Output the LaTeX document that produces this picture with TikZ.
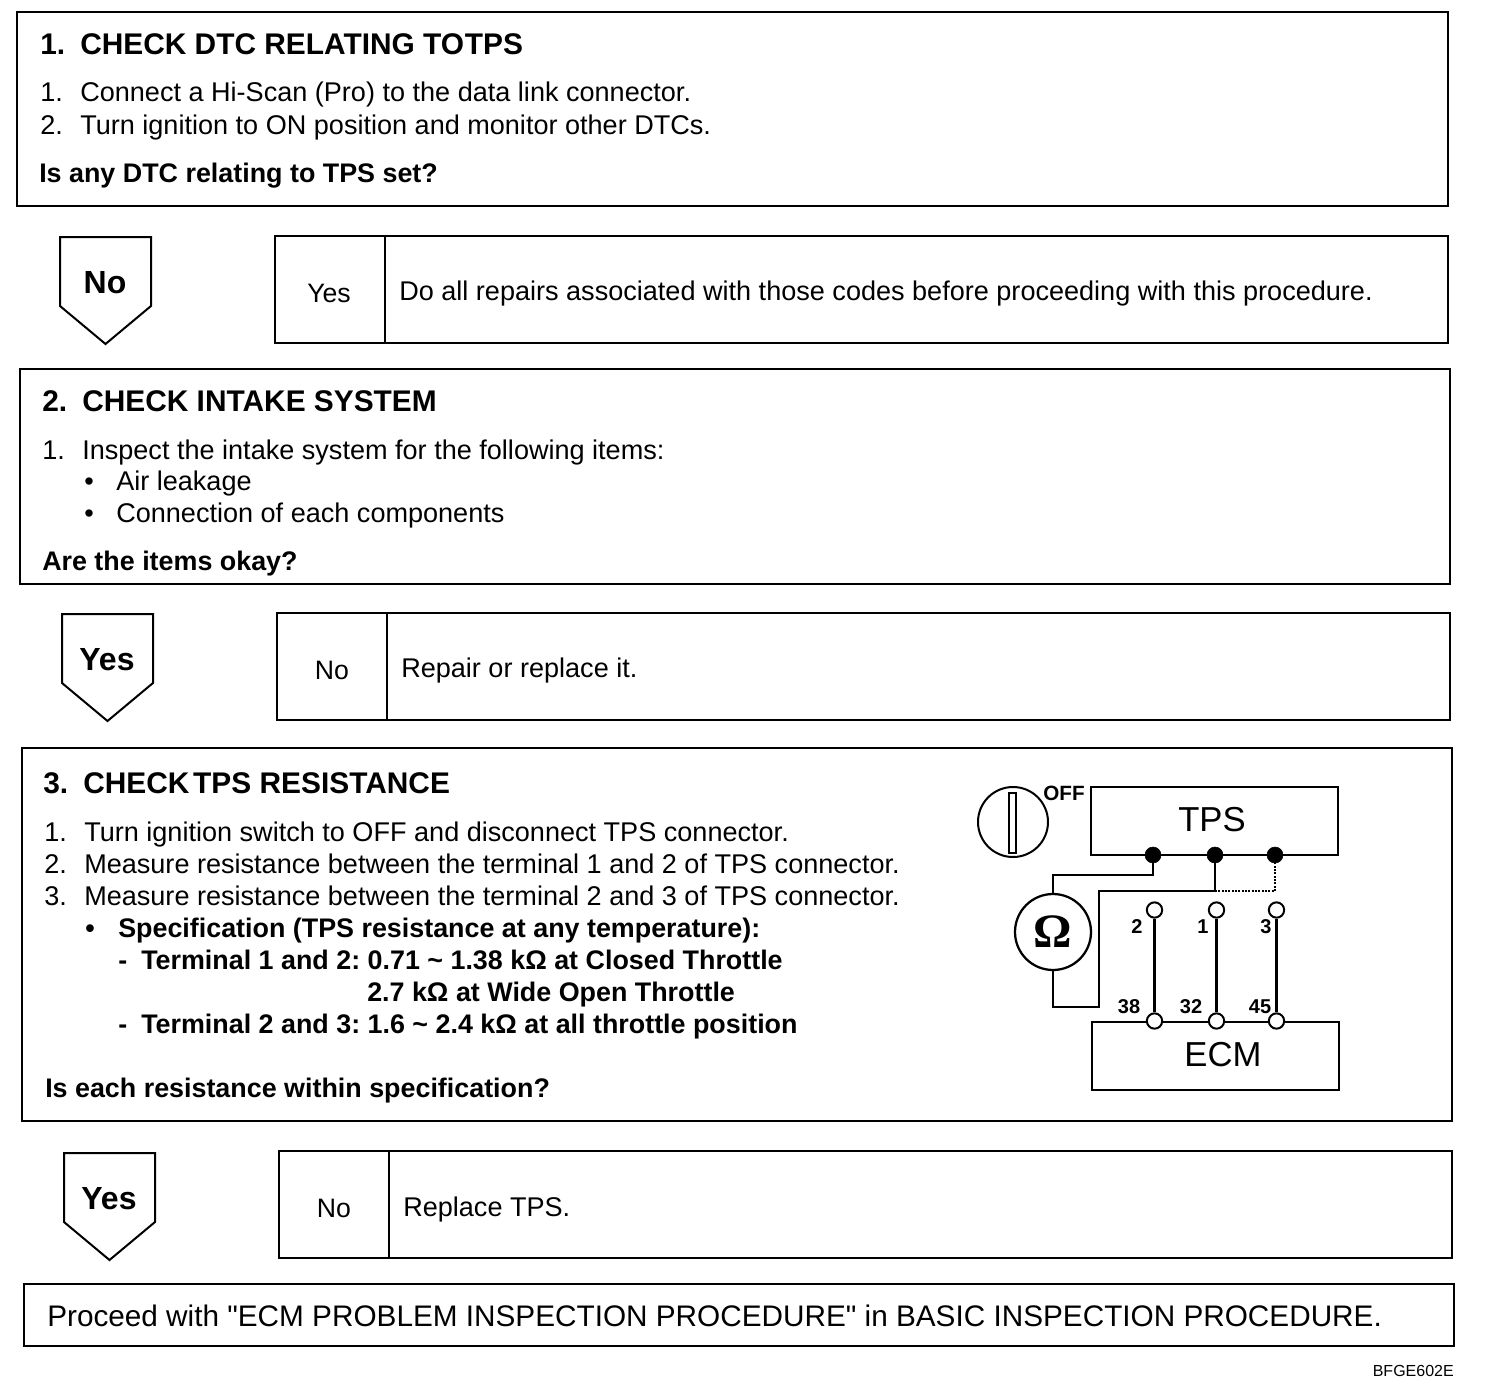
\documentclass[tikz,border=0pt]{standalone}
\usepackage{fontspec}
\setmainfont[Ligatures=TeXOff]{Liberation Sans}
\newfontfamily\serifsym{Liberation Serif}
\usetikzlibrary{fit, calc}
\frenchspacing
\tikzset{
  stepbox/.style={rectangle, draw=black, line width=1.6pt, inner sep=0pt},
  tag/.style={draw=black, line width=1.5pt, line join=miter},
  wire/.style={draw=black, line width=1.7pt},
  wirecheck/.style={draw=black, line width=1.5pt, densely dotted},
  body/.style={anchor=base west, inner sep=0pt, font=\fontsize{20.3}{24}\selectfont},
  strong/.style={body, font=\fontsize{20.15}{24}\selectfont\bfseries},
  titletext/.style={body, font=\fontsize{22.4}{26}\selectfont\bfseries},
  tagtext/.style={anchor=center, inner sep=0pt, font=\fontsize{24}{28}\selectfont\bfseries},
  celltext/.style={anchor=base, inner sep=0pt, font=\fontsize{20}{24}\selectfont},
  unit/.style={rectangle, draw=black, line width=1.6pt, inner sep=0pt},
  unittext/.style={anchor=center, inner sep=0pt, font=\fontsize{26}{30}\selectfont},
  pinlabel/.style={anchor=center, inner sep=0pt, font=\fontsize{15}{18}\selectfont\bfseries},
  solidpin/.style={circle, fill=black, draw=black, minimum size=12pt, inner sep=0pt},
  openpin/.style={circle, fill=white, draw=black, line width=1.5pt, minimum size=11.5pt, inner sep=0pt},
}

\begin{document}
\begin{tikzpicture}[x=0.75pt, y=-0.75pt]
\useasboundingbox (0,0) rectangle (1504,1388);

% Check boxes
\node[stepbox, fit={(17,12)(1448,206)}]   (step1) {};
\node[stepbox, fit={(20,369)(1450,584)}]  (step2) {};
\node[stepbox, fit={(22,748)(1452,1121)}] (step3) {};
\node[stepbox, fit={(24,1284)(1454,1346)}] (proceed) {};

% Answer rows
\node[stepbox, fit={(275,236)(385,343)}]   (cell1) {};
\node[stepbox, fit={(385,236)(1448,343)}]  (fix1) {};
\node[stepbox, fit={(277,613)(387,720)}]   (cell2) {};
\node[stepbox, fit={(387,613)(1450,720)}]  (fix2) {};
\node[stepbox, fit={(279,1151)(389,1258)}] (cell3) {};
\node[stepbox, fit={(389,1151)(1452,1258)}] (fix3) {};
\node[celltext] (cell1t) at (329,302)  {Yes};
\node[celltext] (cell2t) at (332,679.5)  {No};
\node[celltext] (cell3t) at (334,1217.5) {No};
\node[body] (fix1t) at (399,300)  {Do all repairs associated with those codes before proceeding with this procedure.};
\node[body] (fix2t) at (401,677)  {Repair or replace it.};
\node[body] (fix3t) at (403,1216) {Replace TPS.};

% Down tags
\foreach \x/\y/\t in {60/237/No, 62/614/Yes, 64/1153/Yes} {
  \draw[tag] (\x,\y) -- ++(91,0) -- ++(0,69) -- ++(-45.5,38) -- ++(-45.5,-38) -- cycle;
  \node[tagtext] (tag\y) at (\x+45,\y+46) {\t};
}

% Titles
\foreach \x/\y/\n/\t in {40/55/1./CHECK DTC RELATING TO\kern-.25em{} TPS, 42/411/2./CHECK INTAKE SYSTEM, 43/793/3./CHECK\kern-.15em{} TPS RESISTANCE} {
  \node[titletext] (num\y) at (\x,\y) {\n};
  \node[titletext] (title\y) at (\x+40,\y) {\t};
}

% Step 1
\node[body] (n102) at (40,102) {1.};
\node[body] (l102) at (80,102) {Connect a Hi-Scan (Pro) to the data link connector.};
\node[body] (n134) at (40,134) {2.};
\node[body] (l134) at (80,134) {Turn ignition to ON position and monitor other DTCs.};
\node[strong] (q1) at (39,182) {Is any DTC relating to TPS set?};

% Step 2
\node[body] (n460) at (42,459) {1.};
\node[body] (l460) at (82,459) {Inspect the intake system for the following items:};
\node[body] (b491) at (84,490) {•};
\node[body] (l491) at (116,490) {Air leakage};
\node[body] (b522) at (84,522) {•};
\node[body] (l522) at (116,522) {Connection of each components};
\node[strong] (q2) at (42,570) {Are the items okay?};

% Step 3
\node[body] (n842) at (44,841) {1.};
\node[body] (l842) at (84,841) {Turn ignition switch to OFF and disconnect TPS connector.};
\node[body] (n873) at (44,873) {2.};
\node[body] (l873) at (84,873) {Measure resistance between the terminal 1 and 2 of TPS connector.};
\node[body] (n905) at (44,905) {3.};
\node[body] (l905) at (84,905) {Measure resistance between the terminal 2 and 3 of TPS connector.};
\node[strong] (b937) at (85,937) {•};
\node[strong] (s937) at (118,937) {Specification (TPS resistance at any temperature):};
\node[strong] (d969) at (118,969) {-};
\node[strong] (s969) at (141,969) {Terminal 1 and 2: 0.71 \textasciitilde{} 1.38 kΩ at Closed Throttle};
\node[strong] (s1001) at (367,1001) {2.7 kΩ at Wide Open Throttle};
\node[strong] (d1033) at (118,1033) {-};
\node[strong] (s1033) at (141,1033) {Terminal 2 and 3: 1.6 \textasciitilde{} 2.4 kΩ at all throttle position};
\node[strong] (q3) at (45,1097) {Is each resistance within specification?};

\node[body] (final) at (47,1326) {\fontsize{22.3}{26}\selectfont Proceed with "ECM PROBLEM INSPECTION PROCEDURE" in BASIC INSPECTION PROCEDURE.};
\node[anchor=east, inner sep=0pt, font=\fontsize{12}{14}\selectfont] (code) at (1454,1371) {BFGE602E};

% Ignition dial
\node[circle, draw=black, line width=1.5pt, minimum size=52.5pt, inner sep=0pt] (dial) at (1013,822) {};
\node[rectangle, draw=black, line width=1.3pt, fit={(1009,793)(1016,853)}, inner sep=0pt] (slot) {};
\node[pinlabel, font=\fontsize{15.5}{18}\selectfont\bfseries] (offt) at (1064,793) {OFF};

% Units
\node[unit, fit={(1091,787)(1338,855)}]  (tps) {};
\node[unit, fit={(1092,1022)(1339,1090)}] (ecm) {};
\node[unittext] (tpst) at (1212,820) {TPS};
\node[unittext] (ecmt) at (1223,1055) {ECM};

% Pins
\foreach \n/\x in {a/1153, b/1215, c/1275} { \node[solidpin] (s\n) at (\x,855) {}; }
\foreach \n/\x in {a/1154.5, b/1216.5, c/1276.5} { \node[openpin] (u\n) at (\x,910) {}; }
\foreach \n/\x in {a/1154.5, b/1216.5, c/1276.5} { \node[openpin] (v\n) at (\x,1021) {}; }
\foreach \n/\x/\t in {p2/1137/2, p1/1203/1, p3/1266/3} { \node[pinlabel] (\n) at (\x,927) {\t}; }
\foreach \n/\x/\t in {p38/1129/38, p32/1191/32, p45/1260/45} { \node[pinlabel] (\n) at (\x,1007) {\t}; }

% Meter
\node[circle, draw=black, line width=1.7pt, minimum size=57pt, inner sep=0pt,
      font=\fontsize{36}{38}\selectfont\serifsym\bfseries] (meter) at (1053,932) {Ω};

% Wiring
\coordinate (bend0) at (1053,875);
\coordinate (bend1) at (1099,1007);
\coordinate (tee) at (1215,891);
\draw[wire] (sa.south) |- (bend0) -- (meter.north);
\draw[wire] (meter.south) |- (bend1) |- (tee) -- (sb.south);
\draw[wirecheck] (tee) -| (sc.south);
\foreach \n in {a, b, c} { \draw[wire] (u\n.south) -- (v\n.north); }

\end{tikzpicture}
\end{document}
